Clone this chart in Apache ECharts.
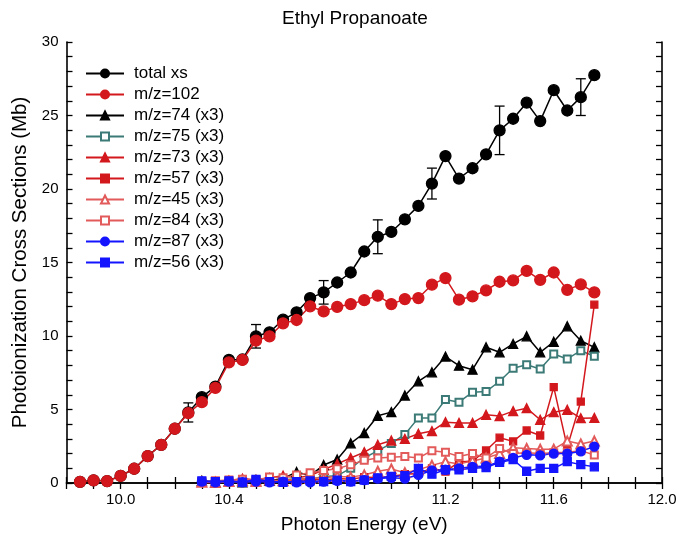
<!DOCTYPE html>
<html>
<head>
<meta charset="utf-8">
<script src="https://cdn.jsdelivr.net/npm/echarts@6/dist/echarts.min.js"></script>
<style>
  html, body { margin: 0; padding: 0; background: #fff; }
  #chart { width: 680px; height: 539px; }
</style>
</head>
<body>
<div id="chart"></div>
<script>
// Photon energies (eV)
const energyAll = [9.85, 9.90, 9.95, 10.00, 10.05, 10.10, 10.15, 10.20, 10.25, 10.30,
  10.35, 10.40, 10.45, 10.50, 10.55, 10.60, 10.65, 10.70, 10.75, 10.80,
  10.85, 10.90, 10.95, 11.00, 11.05, 11.10, 11.15, 11.20, 11.25, 11.30,
  11.35, 11.40, 11.45, 11.50, 11.55, 11.60, 11.65, 11.70, 11.75];
const energyFrag = [10.30, 10.35, 10.40, 10.45, 10.50, 10.55, 10.60, 10.65, 10.70, 10.75,
  10.80, 10.85, 10.90, 10.95, 11.00, 11.05, 11.10, 11.15, 11.20, 11.25,
  11.30, 11.35, 11.40, 11.45, 11.50, 11.55, 11.60, 11.65, 11.70, 11.75];

// Cross sections (Mb)
const totalXs = [0.07, 0.18, 0.13, 0.48, 0.97, 1.83, 2.6, 3.69, 4.8, 5.84,
  6.56, 8.37, 8.4, 9.98, 10.25, 11.11, 11.61, 12.58, 12.97, 13.64,
  14.32, 15.75, 16.75, 17.08, 17.94, 18.85, 20.37, 22.24, 20.71, 21.41,
  22.36, 23.99, 24.78, 25.87, 24.62, 26.72, 25.34, 26.25, 27.74];
const mz102 = [0.07, 0.18, 0.13, 0.48, 0.97, 1.83, 2.6, 3.69, 4.75, 5.5,
  6.47, 8.2, 8.37, 9.68, 9.98, 10.86, 11.09, 12.02, 11.67, 11.98,
  12.17, 12.44, 12.74, 12.17, 12.51, 12.58, 13.49, 13.94, 12.47, 12.7,
  13.1, 13.69, 13.78, 14.43, 13.82, 14.32, 13.14, 13.51, 12.97];
const mz74 = [0.15, 0.05, 0.1, 0.05, 0.2, 0.15, 0.3, 0.75, 0.5, 1.22,
  1.6, 2.7, 3.4, 4.57, 4.82, 5.95, 6.92, 7.53, 8.6, 7.98,
  7.71, 9.23, 8.89, 9.46, 9.98, 8.89, 9.61, 10.66, 9.68, 9.23];
const mz75 = [0.05, 0.1, 0.05, 0.1, 0.15, 0.1, 0.2, 0.3, 0.25, 0.45,
  0.5, 1.0, 1.72, 2.18, 2.69, 3.3, 4.43, 4.43, 5.68, 5.5,
  6.18, 6.22, 6.92, 7.81, 8.05, 7.76, 8.78, 8.44, 9.0, 8.62];
const mz73 = [0.1, 0.05, 0.15, 0.3, 0.2, 0.35, 0.5, 0.35, 0.5, 0.9,
  1.3, 1.7, 2.1, 2.6, 2.89, 3.0, 3.35, 3.53, 4.14, 4.09,
  4.09, 4.64, 4.55, 4.89, 5.09, 4.3, 4.82, 4.98, 4.41, 4.43];
const mz57 = [0.05, 0.0, 0.1, 0.05, 0.15, 0.1, 0.2, 0.15, 0.25, 0.2,
  0.3, 0.25, 0.4, 0.35, 0.45, 0.6, 0.65, 1.0, 0.78, 1.43,
  1.49, 2.21, 3.08, 2.83, 3.57, 3.23, 6.52, 2.44, 5.54, 12.13];
const mz45 = [0.05, 0.05, 0.1, 0.15, 0.1, 0.2, 0.15, 0.25, 0.3, 0.35,
  0.45, 0.4, 0.55, 0.8, 0.95, 0.7, 0.9, 1.2, 1.45, 1.3,
  1.5, 1.7, 2.0, 2.4, 2.35, 2.3, 2.3, 2.85, 2.65, 2.85];
const mz84 = [0.1, 0.15, 0.2, 0.25, 0.2, 0.4, 0.35, 0.55, 0.7, 0.85,
  0.97, 1.25, 1.55, 1.7, 1.75, 1.8, 1.7, 2.2, 2.1, 1.8,
  2.0, 1.7, 2.35, 2.0, 2.05, 2.0, 2.05, 2.1, 2.2, 1.9];
const mz87 = [0.1, 0.05, 0.1, 0.05, 0.1, 0.05, 0.1, 0.05, 0.05, 0.1,
  0.15, 0.1, 0.2, 0.3, 0.35, 0.3, 0.55, 0.85, 0.9, 1.0,
  1.1, 1.15, 1.45, 1.7, 1.92, 1.88, 2.0, 2.0, 2.15, 2.48];
const mz56 = [0.15, 0.1, 0.15, 0.05, 0.25, 0.1, 0.05, 0.1, 0.15, 0.1,
  0.2, 0.1, 0.2, 0.35, 0.45, 0.5, 1.0, 0.6, 0.9, 0.9,
  1.0, 1.05, 1.4, 1.6, 0.8, 1.0, 1.0, 1.45, 1.25, 1.1];

// Uncertainty on the total cross section (half-width, Mb)
const errEnergy = [10.25, 10.50, 10.75, 10.95, 11.15, 11.40, 11.70];
const errHalf = [0.65, 0.8, 0.8, 1.15, 1.05, 1.65, 1.25];

const FONT = '"Liberation Sans", Arial, sans-serif';
const RED = '#d3181d';
const PINK = '#e25a5a';
const TEAL = '#3b7a76';
const BLUE = '#1414ff';

function pairs(xs, ys) { return xs.map((x, i) => [x, ys[i]]); }

function lineSeries(name, xs, ys, color, symbol, size) {
  return {
    name: name,
    type: 'line',
    data: pairs(xs, ys),
    symbol: symbol,
    symbolSize: size,
    lineStyle: { color: color, width: 1.5 },
    itemStyle: { color: color, borderColor: color, borderWidth: 1.3 },
    emphasis: { disabled: true },
    animation: false
  };
}

const errData = errEnergy.map((e, i) => {
  const c = totalXs[energyAll.findIndex(v => Math.abs(v - e) < 1e-6)];
  return [e, c - errHalf[i], c + errHalf[i]];
});

const onMajor = v => Math.abs((v - 10) / 0.4 - Math.round((v - 10) / 0.4)) < 1e-6;

const axisCommon = {
  axisLine: { lineStyle: { color: '#000', width: 1.6 } },
  axisTick: { inside: true, length: 6, lineStyle: { color: '#000', width: 1.3 } },
  splitLine: { show: false }
};

const chart = echarts.init(document.getElementById('chart'), null, { renderer: 'canvas' });
chart.setOption({
  animation: false,
  backgroundColor: '#fff',
  title: {
    text: 'Ethyl Propanoate',
    left: 277, top: 4,
    textStyle: { fontFamily: FONT, fontSize: 19, fontWeight: 'normal', color: '#000' }
  },
  grid: { left: 66.5, right: 18, top: 42, bottom: 54.7 },
  legend: {
    orient: 'vertical',
    left: 80, top: 60,
    itemWidth: 38, itemHeight: 10, itemGap: 4,
    textStyle: { fontFamily: FONT, fontSize: 17, color: '#000', padding: [0, 0, 0, 5] },
    data: ['total xs', 'm/z=102', 'm/z=74 (x3)', 'm/z=75 (x3)', 'm/z=73 (x3)',
      'm/z=57 (x3)', 'm/z=45 (x3)', 'm/z=84 (x3)', 'm/z=87 (x3)', 'm/z=56 (x3)']
  },
  xAxis: [
    Object.assign({
      type: 'value', min: 9.8, max: 12.0, interval: 0.1,
      name: 'Photon Energy (eV)', nameLocation: 'middle', nameGap: 32,
      nameTextStyle: { fontFamily: FONT, fontSize: 19, color: '#000' },
      axisLabel: {
        fontFamily: FONT, fontSize: 15, color: '#000', margin: 9,
        showMinLabel: true, showMaxLabel: true,
        formatter: v => onMajor(v) ? v.toFixed(1) : ''
      }
    }, axisCommon),
    Object.assign({
      type: 'value', min: 9.8, max: 12.0, interval: 0.1, position: 'top',
      axisLabel: { show: false }
    }, axisCommon)
  ],
  yAxis: [
    Object.assign({
      type: 'value', min: 0, max: 30, interval: 1,
      name: 'Photoionization Cross Sections (Mb)', nameLocation: 'middle', nameGap: 36,
      nameTextStyle: { fontFamily: FONT, fontSize: 20.5, color: '#000' },
      axisLabel: {
        fontFamily: FONT, fontSize: 15, color: '#000', margin: 8,
        formatter: v => (Math.round(v) % 5 === 0 ? String(Math.round(v)) : '')
      }
    }, axisCommon),
    Object.assign({
      type: 'value', min: 0, max: 30, interval: 1, position: 'right',
      axisLabel: { show: false }
    }, axisCommon)
  ],
  series: [
    lineSeries('total xs', energyAll, totalXs, '#000', 'circle', 11),
    {
      name: 'total xs err', type: 'custom', data: errData, z: 3,
      animation: false, silent: true,
      renderItem: function (params, api) {
        const x = api.value(0);
        const lo = api.coord([x, api.value(1)]);
        const hi = api.coord([x, api.value(2)]);
        const w = 5;
        const st = { stroke: '#000', lineWidth: 1.3 };
        return {
          type: 'group',
          children: [
            { type: 'line', shape: { x1: lo[0], y1: lo[1], x2: hi[0], y2: hi[1] }, style: st },
            { type: 'line', shape: { x1: lo[0] - w, y1: lo[1], x2: lo[0] + w, y2: lo[1] }, style: st },
            { type: 'line', shape: { x1: hi[0] - w, y1: hi[1], x2: hi[0] + w, y2: hi[1] }, style: st }
          ]
        };
      }
    },
    lineSeries('m/z=102', energyAll, mz102, RED, 'circle', 11),
    lineSeries('m/z=74 (x3)', energyFrag, mz74, '#000', 'triangle', 9),
    lineSeries('m/z=75 (x3)', energyFrag, mz75, TEAL, 'emptyRect', 7),
    lineSeries('m/z=73 (x3)', energyFrag, mz73, RED, 'triangle', 9),
    lineSeries('m/z=57 (x3)', energyFrag, mz57, RED, 'rect', 7),
    lineSeries('m/z=45 (x3)', energyFrag, mz45, PINK, 'emptyTriangle', 9),
    lineSeries('m/z=84 (x3)', energyFrag, mz84, PINK, 'emptyRect', 7),
    lineSeries('m/z=87 (x3)', energyFrag, mz87, BLUE, 'circle', 9),
    lineSeries('m/z=56 (x3)', energyFrag, mz56, BLUE, 'rect', 8)
  ]
});
</script>
</body>
</html>
